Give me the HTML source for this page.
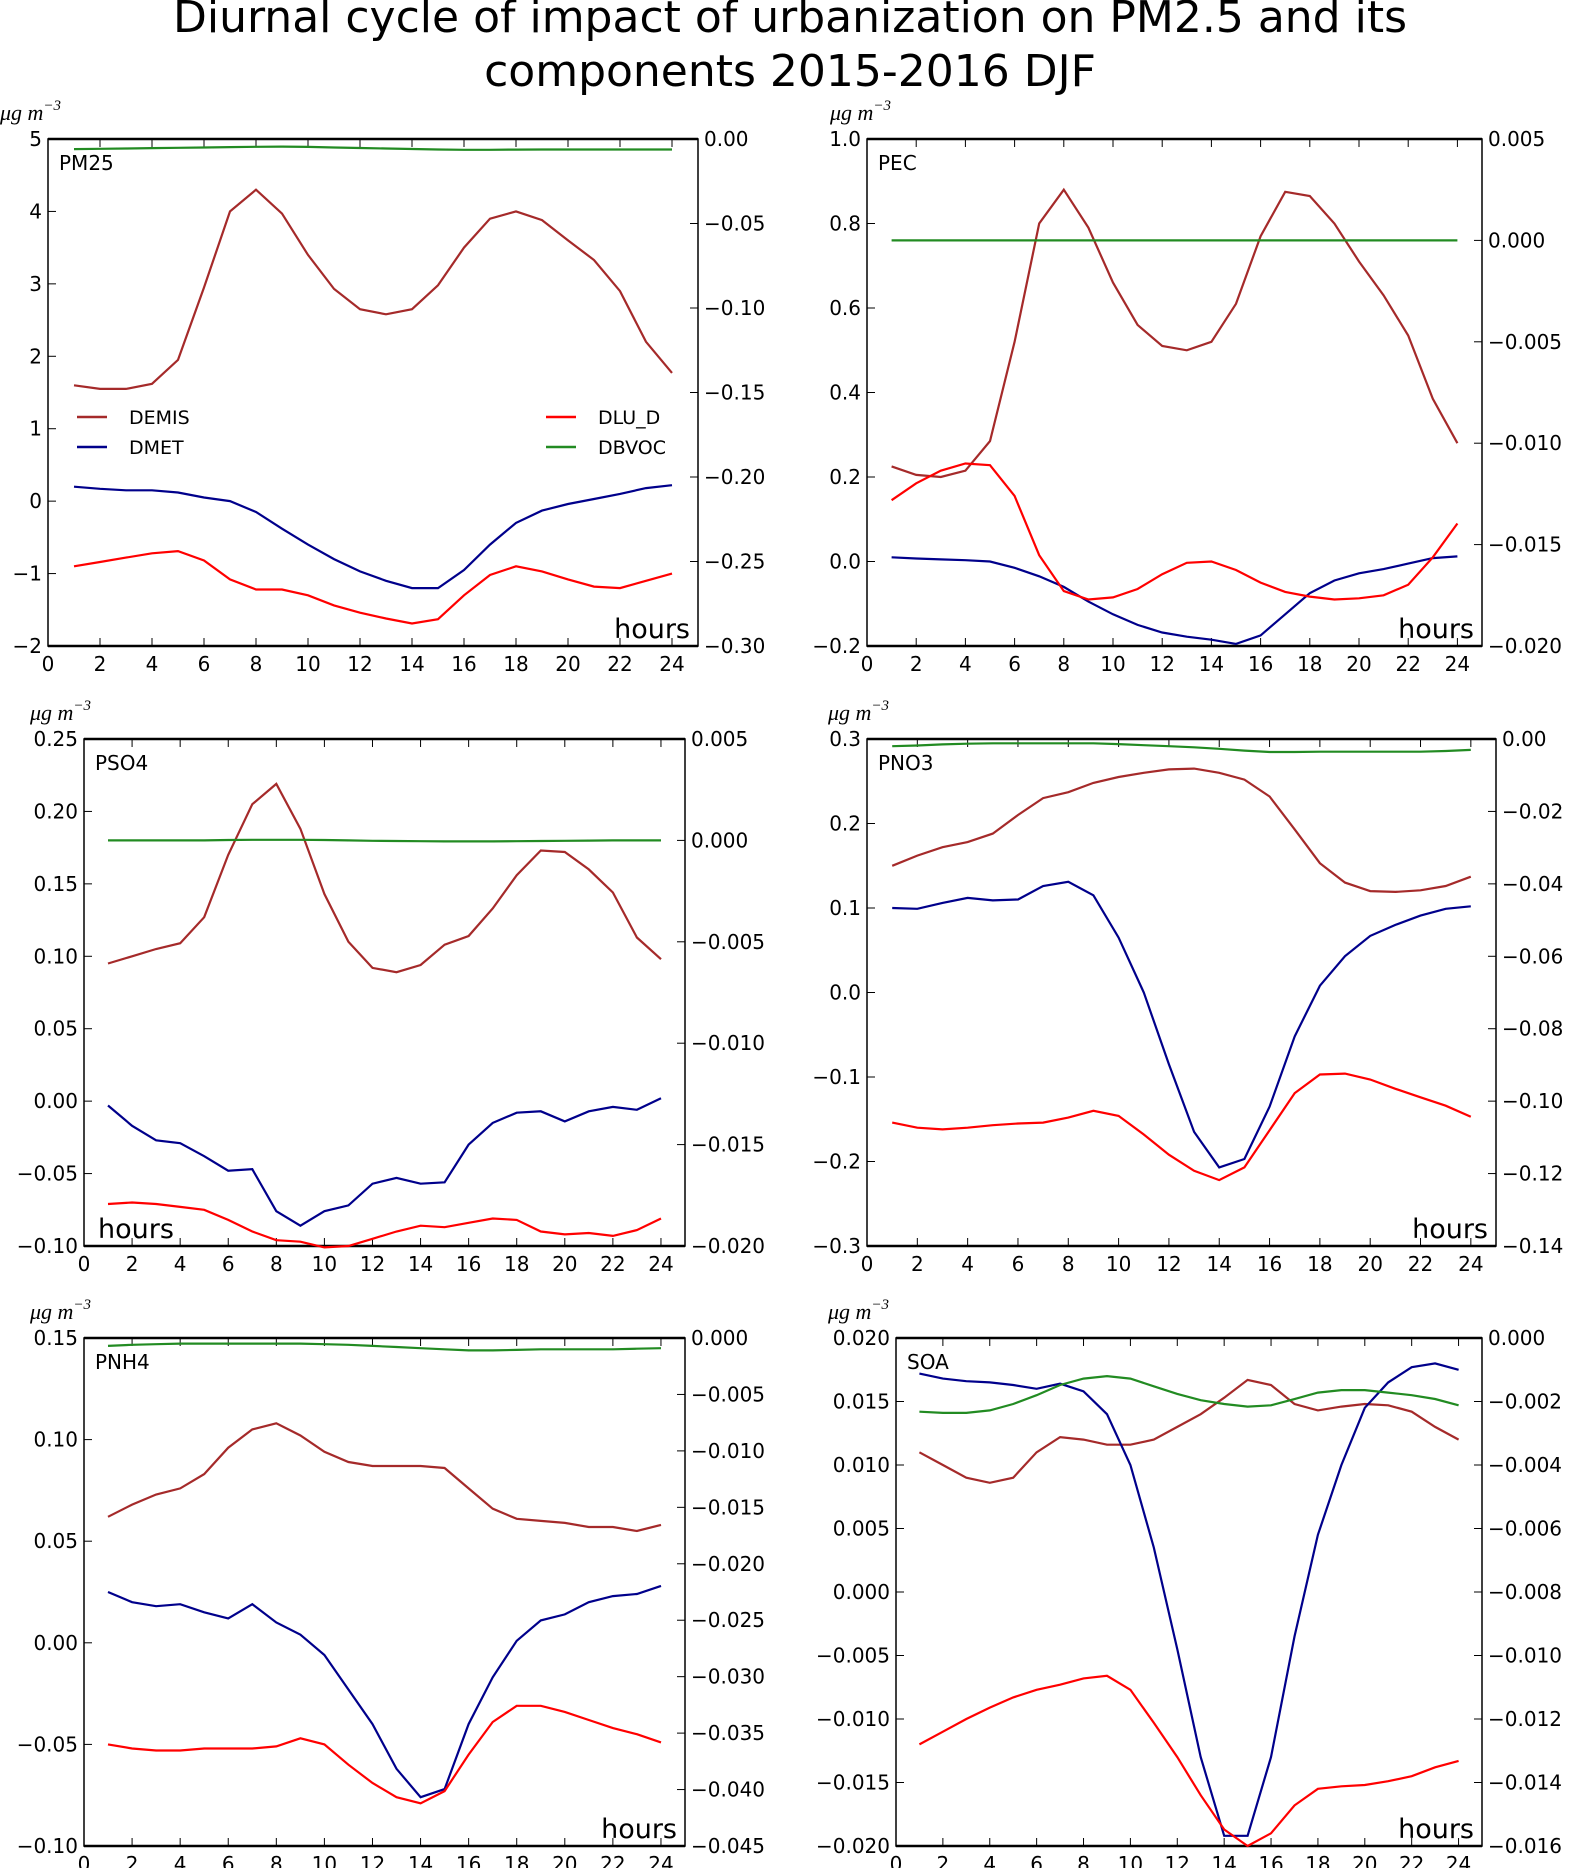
<!DOCTYPE html>
<html><head><meta charset="utf-8"><style>
html,body{margin:0;padding:0;background:#fff;}
svg{display:block;font-family:"DejaVu Sans","Liberation Sans",sans-serif;}
</style></head><body>
<svg id="fig" width="1573" height="1868" viewBox="0 0 1573 1868">
<text x="790" y="32" font-size="44" text-anchor="middle">Diurnal cycle of impact of urbanization on PM2.5 and its</text>
<text x="790" y="86" font-size="44" text-anchor="middle">components 2015-2016 DJF</text>
</svg>
<script>
const hours = [1,2,3,4,5,6,7,8,9,10,11,12,13,14,15,16,17,18,19,20,21,22,23,24];
const xTicks = [0,2,4,6,8,10,12,14,16,18,20,22,24];

const pm25Demis = [1.6,1.55,1.55,1.62,1.95,2.95,4.0,4.3,3.97,3.4,2.93,2.65,2.58,2.65,2.98,3.5,3.9,4.0,3.88,3.6,3.33,2.9,2.2,1.77];
const pm25Dmet = [0.2,0.17,0.15,0.15,0.12,0.05,0,-0.15,-0.38,-0.6,-0.8,-0.97,-1.1,-1.2,-1.2,-0.95,-0.6,-0.3,-0.13,-0.04,0.03,0.1,0.18,0.22];
const pm25Dlud = [-0.9,-0.84,-0.78,-0.72,-0.69,-0.82,-1.08,-1.22,-1.22,-1.3,-1.44,-1.54,-1.62,-1.69,-1.63,-1.3,-1.02,-0.9,-0.97,-1.08,-1.18,-1.2,-1.1,-1.0];
const pm25Dbvoc = [-0.006,-0.0058,-0.0056,-0.0054,-0.0052,-0.005,-0.0048,-0.0046,-0.0045,-0.0047,-0.005,-0.0053,-0.0056,-0.0059,-0.0062,-0.0064,-0.0064,-0.0063,-0.0062,-0.0062,-0.0062,-0.0062,-0.0062,-0.0062];
const pm25LeftTicks = [-2,-1,0,1,2,3,4,5];
const pm25RightTicks = [-0.30,-0.25,-0.20,-0.15,-0.10,-0.05,0.00];

const pecDemis = [0.225,0.205,0.2,0.215,0.285,0.52,0.8,0.88,0.79,0.66,0.56,0.51,0.5,0.52,0.61,0.77,0.875,0.865,0.8,0.71,0.63,0.535,0.385,0.28];
const pecDmet = [0.01,0.007,0.005,0.003,0,-0.015,-0.035,-0.06,-0.095,-0.125,-0.15,-0.168,-0.178,-0.185,-0.195,-0.175,-0.125,-0.075,-0.045,-0.028,-0.018,-0.005,0.008,0.012];
const pecDlud = [0.145,0.185,0.215,0.232,0.228,0.155,0.015,-0.07,-0.09,-0.085,-0.065,-0.03,-0.003,0,-0.02,-0.05,-0.072,-0.083,-0.09,-0.087,-0.08,-0.055,0.01,0.09];
const pecDbvoc = [0,0,0,0,0,0,0,0,0,0,0,0,0,0,0,0,0,0,0,0,0,0,0,0];
const pecLeftTicks = [-0.2,0.0,0.2,0.4,0.6,0.8,1.0];
const pecRightTicks = [-0.020,-0.015,-0.010,-0.005,0.000,0.005];

const pso4Demis = [0.095,0.1,0.105,0.109,0.127,0.17,0.205,0.219,0.188,0.143,0.11,0.092,0.089,0.094,0.108,0.114,0.133,0.156,0.173,0.172,0.16,0.144,0.113,0.098];
const pso4Dmet = [-0.003,-0.017,-0.027,-0.029,-0.038,-0.048,-0.047,-0.076,-0.086,-0.076,-0.072,-0.057,-0.053,-0.057,-0.056,-0.03,-0.015,-0.008,-0.007,-0.014,-0.007,-0.004,-0.006,0.002];
const pso4Dlud = [-0.071,-0.07,-0.071,-0.073,-0.075,-0.082,-0.09,-0.096,-0.097,-0.101,-0.1,-0.095,-0.09,-0.086,-0.087,-0.084,-0.081,-0.082,-0.09,-0.092,-0.091,-0.093,-0.089,-0.081];
const pso4Dbvoc = [0,0,0,0,0,0.00002,0.00003,0.00003,0.00003,0.00002,0,-0.00002,-0.00003,-0.00004,-0.00005,-0.00005,-0.00005,-0.00004,-0.00003,-0.00002,-0.00001,0,0,0];
const pso4LeftTicks = [-0.10,-0.05,0.00,0.05,0.10,0.15,0.20,0.25];
const pso4RightTicks = [-0.020,-0.015,-0.010,-0.005,0.000,0.005];

const pno3Demis = [0.15,0.162,0.172,0.178,0.188,0.21,0.23,0.237,0.248,0.255,0.26,0.264,0.265,0.26,0.252,0.232,0.193,0.153,0.13,0.12,0.119,0.121,0.126,0.137];
const pno3Dmet = [0.1,0.099,0.106,0.112,0.109,0.11,0.126,0.131,0.115,0.065,0,-0.085,-0.165,-0.207,-0.197,-0.135,-0.052,0.008,0.043,0.067,0.08,0.091,0.099,0.102];
const pno3Dlud = [-0.154,-0.16,-0.162,-0.16,-0.157,-0.155,-0.154,-0.148,-0.14,-0.146,-0.168,-0.192,-0.211,-0.222,-0.207,-0.163,-0.119,-0.097,-0.096,-0.103,-0.114,-0.124,-0.134,-0.147];
const pno3Dbvoc = [-0.002,-0.0018,-0.0015,-0.0013,-0.0012,-0.0012,-0.0012,-0.0012,-0.0012,-0.0014,-0.0017,-0.002,-0.0023,-0.0027,-0.0032,-0.0036,-0.0036,-0.0035,-0.0035,-0.0035,-0.0035,-0.0035,-0.0033,-0.003];
const pno3LeftTicks = [-0.3,-0.2,-0.1,0.0,0.1,0.2,0.3];
const pno3RightTicks = [-0.14,-0.12,-0.10,-0.08,-0.06,-0.04,-0.02,0.00];

const pnh4Demis = [0.062,0.068,0.073,0.076,0.083,0.096,0.105,0.108,0.102,0.094,0.089,0.087,0.087,0.087,0.086,0.076,0.066,0.061,0.06,0.059,0.057,0.057,0.055,0.058];
const pnh4Dmet = [0.025,0.02,0.018,0.019,0.015,0.012,0.019,0.01,0.004,-0.006,-0.023,-0.04,-0.062,-0.076,-0.072,-0.04,-0.017,0.001,0.011,0.014,0.02,0.023,0.024,0.028];
const pnh4Dlud = [-0.05,-0.052,-0.053,-0.053,-0.052,-0.052,-0.052,-0.051,-0.047,-0.05,-0.06,-0.069,-0.076,-0.079,-0.073,-0.055,-0.039,-0.031,-0.031,-0.034,-0.038,-0.042,-0.045,-0.049];
const pnh4Dbvoc = [-0.0007,-0.0006,-0.00055,-0.0005,-0.0005,-0.0005,-0.0005,-0.0005,-0.0005,-0.00055,-0.0006,-0.0007,-0.0008,-0.0009,-0.001,-0.0011,-0.0011,-0.00105,-0.001,-0.001,-0.001,-0.001,-0.00095,-0.0009];
const pnh4LeftTicks = [-0.10,-0.05,0.00,0.05,0.10,0.15];
const pnh4RightTicks = [-0.045,-0.040,-0.035,-0.030,-0.025,-0.020,-0.015,-0.010,-0.005,0.000];

const soaDemis = [0.011,0.01,0.009,0.0086,0.009,0.011,0.0122,0.012,0.0116,0.0116,0.012,0.013,0.014,0.0153,0.0167,0.0163,0.0148,0.0143,0.0146,0.0148,0.0147,0.0142,0.013,0.012];
const soaDmet = [0.0172,0.0168,0.0166,0.0165,0.0163,0.016,0.0164,0.0158,0.014,0.01,0.0035,-0.0045,-0.013,-0.0192,-0.0192,-0.013,-0.0035,0.0045,0.01,0.0145,0.0165,0.0177,0.018,0.0175];
const soaDlud = [-0.012,-0.011,-0.01,-0.0091,-0.0083,-0.0077,-0.0073,-0.0068,-0.0066,-0.0077,-0.0103,-0.013,-0.016,-0.0187,-0.02,-0.019,-0.0168,-0.0155,-0.0153,-0.0152,-0.0149,-0.0145,-0.0138,-0.0133];
const soaDbvoc = [-0.00232,-0.00236,-0.00236,-0.00228,-0.00208,-0.0018,-0.00148,-0.00128,-0.0012,-0.00128,-0.00152,-0.00176,-0.00196,-0.00208,-0.00216,-0.00212,-0.00192,-0.00172,-0.00164,-0.00164,-0.00172,-0.0018,-0.00192,-0.00212];
const soaLeftTicks = [-0.020,-0.015,-0.010,-0.005,0.000,0.005,0.010,0.015,0.020];
const soaRightTicks = [-0.016,-0.014,-0.012,-0.010,-0.008,-0.006,-0.004,-0.002,0.000];

const NS = 'http://www.w3.org/2000/svg';
const svg = document.getElementById('fig');
const C = {demis:'#a52a2a', dmet:'#00008b', dlud:'#ff0000', dbvoc:'#228b22'};

function mk(tag, attrs, parent){
  const e = document.createElementNS(NS, tag);
  for (const k in attrs) e.setAttribute(k, attrs[k]);
  (parent||svg).appendChild(e);
  return e;
}
function fmt(v, dec){ const s = Math.abs(v).toFixed(dec); return (v < -1e-12 ? '\u2212' : '') + s; }

function panel(o){
  const g = mk('g', {});
  
  
  const L=o.x0, R=o.x1, T=o.y0, B=o.y1;
  const xs = v => L + (v/25)*(R-L);
  const yl = v => B - (v-o.lmin)/(o.lmax-o.lmin)*(B-T);
  const yr = v => B - (v-o.rmin)/(o.rmax-o.rmin)*(B-T);
  const frame = mk('rect', {x:L, y:T, width:R-L, height:B-T, fill:'none', stroke:'#000', 'stroke-width':1.5}, g);
  
  
  mk('line', {x1:L, y1:T, x2:R, y2:T, stroke:'#000', 'stroke-width':2.5}, g);
  mk('line', {x1:L, y1:B, x2:R, y2:B, stroke:'#000', 'stroke-width':2.5}, g);
  xTicks.forEach(t => {
    const x = xs(t);
    mk('line', {x1:x, y1:B, x2:x, y2:B-8, stroke:'#000', 'stroke-width':1}, g);
    mk('line', {x1:x, y1:T, x2:x, y2:T+8, stroke:'#000', 'stroke-width':1}, g);
    const tx = mk('text', {x:x, y:B+25, 'font-size':20, 'text-anchor':'middle'}, g);
    tx.textContent = t;
    
    
  });
  o.lt.forEach(t => {
    const y = yl(t);
    mk('line', {x1:L, y1:y, x2:L+8, y2:y, stroke:'#000', 'stroke-width':1}, g);
    const tx = mk('text', {x:L-6, y:y+7, 'font-size':20, 'text-anchor':'end'}, g);
    tx.textContent = fmt(t, o.ld);
    
    
  });
  o.rt.forEach(t => {
    const y = yr(t);
    mk('line', {x1:R, y1:y, x2:R-8, y2:y, stroke:'#000', 'stroke-width':1}, g);
    const tx = mk('text', {x:R+6, y:y+7, 'font-size':20, 'text-anchor':'start'}, g);
    tx.textContent = fmt(t, o.rd);
    
    
  });
  const series = [['demis',o.demis,yl],['dmet',o.dmet,yl],['dlud',o.dlud,yl],['dbvoc',o.dbvoc,yr]];
  series.forEach(s => {
    const d = s[1].map((v,i) => (i?'L':'M') + xs(hours[i]).toFixed(1) + ',' + s[2](v).toFixed(1)).join(' ');
    const p = mk('path', {d:d, fill:'none', stroke:C[s[0]], 'stroke-width':2.2, 'stroke-linejoin':'miter'}, g);
    
    
  });
  const nm = mk('text', {x:L+11, y:T+31, 'font-size':20}, g);
  nm.textContent = o.name;
  
  
  const hr = o.hoursLeft ? mk('text', {x:L+14, y:B-8, 'font-size':27}, g) : mk('text', {x:R-8, y:B-8, 'font-size':27, 'text-anchor':'end'}, g);
  hr.textContent = 'hours';
  
  
  const un = mk('text', {x:o.ux, y:T-19, 'font-size':22, 'font-style':'italic', 'font-family':'"Liberation Serif","DejaVu Serif",serif'}, g);
  un.innerHTML = '\u03bcg m<tspan dy="-10" font-size="15">\u22123</tspan>';
  
  
  return g;
}

panel({key:'pm25', name:'PM25', x0:48, x1:698, y0:139, y1:646, lmin:-2, lmax:5, rmin:-0.30, rmax:0, lt:pm25LeftTicks, rt:pm25RightTicks, ld:0, rd:2, demis:pm25Demis, dmet:pm25Dmet, dlud:pm25Dlud, dbvoc:pm25Dbvoc, ux:0});
panel({key:'pec', name:'PEC', x0:867, x1:1482, y0:139, y1:646, lmin:-0.2, lmax:1.0, rmin:-0.020, rmax:0.005, lt:pecLeftTicks, rt:pecRightTicks, ld:1, rd:3, demis:pecDemis, dmet:pecDmet, dlud:pecDlud, dbvoc:pecDbvoc, ux:830});
panel({key:'pso4', name:'PSO4', x0:84, x1:685, y0:739, y1:1246, lmin:-0.10, lmax:0.25, rmin:-0.020, rmax:0.005, lt:pso4LeftTicks, rt:pso4RightTicks, ld:2, rd:3, demis:pso4Demis, dmet:pso4Dmet, dlud:pso4Dlud, dbvoc:pso4Dbvoc, ux:30, hoursLeft:true});
panel({key:'pno3', name:'PNO3', x0:867, x1:1496, y0:739, y1:1246, lmin:-0.3, lmax:0.3, rmin:-0.14, rmax:0, lt:pno3LeftTicks, rt:pno3RightTicks, ld:1, rd:2, demis:pno3Demis, dmet:pno3Dmet, dlud:pno3Dlud, dbvoc:pno3Dbvoc, ux:828});
panel({key:'pnh4', name:'PNH4', x0:84, x1:685, y0:1338, y1:1846, lmin:-0.10, lmax:0.15, rmin:-0.045, rmax:0, lt:pnh4LeftTicks, rt:pnh4RightTicks, ld:2, rd:3, demis:pnh4Demis, dmet:pnh4Dmet, dlud:pnh4Dlud, dbvoc:pnh4Dbvoc, ux:30});
panel({key:'soa', name:'SOA', x0:896, x1:1482, y0:1338, y1:1846, lmin:-0.020, lmax:0.020, rmin:-0.016, rmax:0, lt:soaLeftTicks, rt:soaRightTicks, ld:3, rd:3, demis:soaDemis, dmet:soaDmet, dlud:soaDlud, dbvoc:soaDbvoc, ux:828});

const legendItems = [['DEMIS','demis',77,417],['DMET','dmet',77,447],['DLU_D','dlud',546,417],['DBVOC','dbvoc',546,447]];
const lg = mk('g', {});


legendItems.forEach(it => {
  const e = mk('g', {}, lg);
  
  
  mk('line', {x1:it[2], y1:it[3], x2:it[2]+30, y2:it[3], stroke:C[it[1]], 'stroke-width':2.5}, e);
  const t = mk('text', {x:it[2]+52, y:it[3]+7, 'font-size':19}, e);
  t.textContent = it[0];
});
</script>
</body></html>
